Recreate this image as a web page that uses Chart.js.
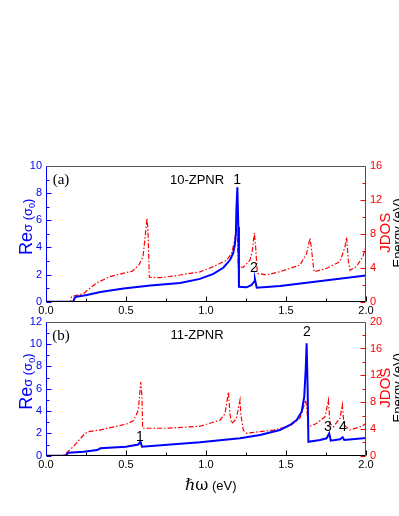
<!DOCTYPE html>
<html>
<head>
<meta charset="utf-8">
<script src="https://cdn.jsdelivr.net/npm/chart.js@4.4.1/dist/chart.umd.min.js"></script>
<style>
  body { margin: 0; background: #fff; width: 399px; height: 516px; overflow: hidden; position: relative; }
  canvas { position: absolute; left: 0; }
</style>
</head>
<body>
<canvas id="chartA" width="399" height="320" style="top:0px"></canvas>
<canvas id="chartB" width="399" height="206" style="top:310px"></canvas>
<script>
// shared x axis
const xTicks = [0, 0.5, 1.0, 1.5, 2.0];

// panel (a) 10-ZPNR
const aLeftTicks = [0, 2, 4, 6, 8, 10];
const aRightTicks = [0, 4, 8, 12, 16];
const aSigmaE = [0, 0.17, 0.18, 0.19, 0.256, 0.34, 0.485, 0.652, 0.8375, 0.9625, 1.046, 1.108, 1.15, 1.17, 1.18, 1.187, 1.19, 1.196, 1.202, 1.206, 1.254, 1.285, 1.30, 1.306, 1.317, 1.4625, 2.0];
const aSigma  = [0, 0, 0.3, 0.37, 0.49, 0.72, 0.98, 1.2, 1.38, 1.68, 2.05, 2.5, 3.07, 3.57, 4.18, 5.04, 6.76, 8.43, 5.5, 1.1, 1.06, 1.23, 1.47, 1.65, 1.03, 1.16, 1.93];
const aJdosE = [0, 0.152, 0.16, 0.235, 0.28, 0.32, 0.40, 0.485, 0.54, 0.58, 0.606, 0.62, 0.631, 0.637, 0.646, 0.715, 0.80, 0.8375, 0.9625, 1.046, 1.13, 1.16, 1.18, 1.19, 1.196, 1.202, 1.233, 1.275, 1.29, 1.302, 1.31, 1.321, 1.379, 1.4625, 1.5875, 1.629, 1.65, 1.66, 1.675, 1.754, 1.8375, 1.869, 1.879, 1.889, 1.9, 1.94, 1.98, 2.0];
const aJdos  = [0, 0, 0.6, 0.96, 1.68, 2.24, 2.96, 3.36, 3.6, 4.32, 5.28, 7.7, 9.84, 8.5, 2.88, 2.83, 3.04, 3.15, 3.52, 4.13, 4.9, 5.7, 7.3, 8.65, 7.7, 4.13, 4.05, 4.9, 6.1, 8.1, 6.5, 3.35, 3.15, 3.54, 4.32, 5.7, 7.5, 6.1, 3.52, 3.94, 4.72, 6.5, 7.6, 4.9, 3.7, 4.13, 5.3, 6.5];
const aPeakLabels = ['1', '2'];
const aPeakX = [1.194, 1.30];
const aPeakY = [8.97, 2.48];

// panel (b) 11-ZPNR
const bLeftTicks = [0, 2, 4, 6, 8, 10, 12];
const bRightTicks = [0, 4, 8, 12, 16, 20];
const bSigmaE = [0, 0.12, 0.14, 0.235, 0.32, 0.34, 0.5, 0.577, 0.59, 0.6, 0.9625, 1.2125, 1.3375, 1.4625, 1.525, 1.567, 1.598, 1.614, 1.623, 1.629, 1.635, 1.64, 1.7125, 1.754, 1.77, 1.78, 1.8375, 1.854, 1.864, 2.0];
const bSigma  = [0, 0, 0.27, 0.36, 0.5, 0.66, 0.8, 1.0, 1.25, 0.8, 1.2, 1.56, 1.85, 2.3, 2.75, 3.2, 3.94, 5.28, 7.67, 10.06, 6.2, 1.25, 1.4, 1.56, 2.0, 1.34, 1.47, 1.65, 1.4, 1.58];
const bJdosE = [0, 0.108, 0.17, 0.244, 0.265, 0.3375, 0.504, 0.546, 0.577, 0.592, 0.6, 0.604, 0.754, 0.9625, 1.0875, 1.119, 1.14, 1.15, 1.16, 1.19, 1.2, 1.2125, 1.217, 1.233, 1.254, 1.42, 1.525, 1.5875, 1.623, 1.629, 1.64, 1.69, 1.744, 1.765, 1.775, 1.796, 1.8375, 1.852, 1.8625, 1.9, 1.9625, 2.0];
const bJdos  = [0, 0, 1.33, 3.33, 3.58, 3.83, 4.73, 5.2, 6.8, 11.0, 8.8, 4.1, 4.1, 4.4, 5.3, 6.3, 9.5, 6.2, 4.8, 5.5, 6.8, 8.3, 6.3, 3.8, 3.35, 3.83, 4.43, 5.6, 8.3, 7.3, 4.3, 4.8, 5.8, 8.3, 4.8, 4.3, 5.6, 7.6, 4.6, 3.83, 4.3, 4.8];
const bPeakLabels = ['1', '2', '3', '4'];
const bPeakX = [0.5875, 1.63, 1.7625, 1.856];
const bPeakY = [1.67, 11.07, 2.57, 2.57];

const BLUE = '#0000ff';
const RED = '#ff0000';
const tickFont = { family: 'Liberation Sans', size: 11 };

function line(ctx, x1, y1, x2, y2) {
    ctx.beginPath();
    ctx.moveTo(x1, y1);
    ctx.lineTo(x2, y2);
    ctx.stroke();
}

// frame, inward ticks and labels
const decor = {
    id: 'decor',
    afterDraw(chart, args, o) {
        const { ctx, chartArea: a, scales } = chart;
        const L = Math.round(a.left) + 0.5, R = Math.round(a.right) - 0.5;
        const T = Math.round(a.top) + 0.5, B = Math.round(a.bottom) - 0.5;
        ctx.save();
        ctx.lineWidth = 1;

        // x ticks
        ctx.strokeStyle = '#000';
        for (let v = 0; v <= 2.0001; v += 0.25) {
            const px = Math.round(scales.x.getPixelForValue(v)) + 0.5;
            const major = Math.abs(v * 2 - Math.round(v * 2)) < 1e-6;
            line(ctx, px, B, px, B - (major ? 5 : 3));
        }
        // left ticks
        ctx.strokeStyle = BLUE;
        for (let v = 0; v <= scales.y.max; v += 1) {
            const py = Math.round(scales.y.getPixelForValue(v)) + 0.5;
            line(ctx, L, py, L + (v % 2 === 0 ? 5 : 3), py);
        }
        // right ticks
        ctx.strokeStyle = RED;
        for (let v = 0; v <= scales.y1.max; v += 2) {
            const py = Math.round(scales.y1.getPixelForValue(v)) + 0.5;
            line(ctx, R, py, R - (v % 4 === 0 ? 5 : 3), py);
        }

        // frame
        ctx.strokeStyle = '#555';
        line(ctx, L, T, R, T);
        ctx.strokeStyle = '#000';
        line(ctx, L, B, R, B);
        ctx.strokeStyle = BLUE;
        line(ctx, L, T, L, B);
        ctx.strokeStyle = RED;
        line(ctx, R, T, R, B);

        // panel tag and name
        ctx.fillStyle = '#000';
        ctx.textBaseline = 'middle';
        ctx.textAlign = 'center';
        ctx.font = '15px "Liberation Serif"';
        ctx.fillText(o.tag, 61, a.top + 14);
        ctx.font = '13px "Liberation Sans"';
        ctx.fillText(o.name, scales.x.getPixelForValue(0.944), a.top + 14);

        // peak numbers
        ctx.font = '14px "Liberation Sans"';
        o.peakLabels.forEach((t, i) => {
            ctx.fillText(t, scales.x.getPixelForValue(o.peakX[i]), scales.y.getPixelForValue(o.peakY[i]));
        });

        // left title Reσ (σ0)
        const cy = (a.top + a.bottom) / 2 - 7;
        ctx.save();
        ctx.translate(32, cy);
        ctx.rotate(-Math.PI / 2);
        ctx.fillStyle = BLUE;
        ctx.textAlign = 'left';
        ctx.textBaseline = 'alphabetic';
        const parts = [
            ['Re', '18px "Liberation Sans"', 0],
            ['σ (σ', '13px "Liberation Sans"', 0],
            ['0', '9px "Liberation Sans"', 3],
            [')', '13px "Liberation Sans"', 0]
        ];
        let w = 0;
        parts.forEach(p => { ctx.font = p[1]; w += ctx.measureText(p[0]).width; });
        let x = -w / 2;
        parts.forEach(p => {
            ctx.font = p[1];
            ctx.fillText(p[0], x, p[2]);
            x += ctx.measureText(p[0]).width;
        });
        ctx.restore();

        // right titles
        ctx.save();
        ctx.translate(390, cy + 6);
        ctx.rotate(-Math.PI / 2);
        ctx.textAlign = 'center';
        ctx.textBaseline = 'alphabetic';
        ctx.fillStyle = RED;
        ctx.font = '15px "Liberation Sans"';
        ctx.fillText('JDOS', 0, 0);
        ctx.fillStyle = '#000';
        ctx.font = '13px "Liberation Sans"';
        ctx.fillText('Energy (eV)', 0, 12);
        ctx.restore();

        // bottom axis title
        if (o.xTitle) {
            ctx.fillStyle = '#000';
            ctx.textAlign = 'left';
            ctx.textBaseline = 'alphabetic';
            ctx.font = '16px "DejaVu Serif"';
            const base = 485 - 310 + 5;
            ctx.fillText('ℏω', 185, base);
            const hw = ctx.measureText('ℏω').width;
            ctx.font = '13px "Liberation Sans"';
            ctx.fillText(' (eV)', 185 + hw, base);
        }
        ctx.restore();
    }
};

function pts(xs, ys) {
    return xs.map((x, i) => ({ x, y: ys[i] }));
}

function makePanel(id, p) {
    return new Chart(document.getElementById(id), {
        type: 'line',
        data: {
            datasets: [
                {
                    data: pts(p.sigmaE, p.sigma),
                    yAxisID: 'y',
                    borderColor: BLUE,
                    borderWidth: 2,
                    pointRadius: 0,
                    tension: 0
                },
                {
                    data: pts(p.jdosE, p.jdos),
                    yAxisID: 'y1',
                    borderColor: RED,
                    borderWidth: 1.2,
                    borderDash: [5, 2, 1.5, 2],
                    pointRadius: 0,
                    tension: 0
                }
            ]
        },
        options: {
            responsive: false,
            animation: false,
            events: [],
            layout: { padding: { top: p.padTop, left: 0, right: 0, bottom: 0 } },
            plugins: {
                legend: { display: false },
                tooltip: { enabled: false },
                decor: p.decor
            },
            scales: {
                x: {
                    type: 'linear', min: 0, max: 2,
                    afterBuildTicks: s => { s.ticks = xTicks.map(v => ({ value: v })); },
                    ticks: { callback: v => v.toFixed(1), color: '#000', font: tickFont, padding: 3, maxRotation: 0, autoSkip: false },
                    grid: { display: false, drawTicks: false },
                    border: { display: false },
                    afterFit: s => { s.height = p.xHeight; }
                },
                y: {
                    position: 'left', min: 0, max: p.leftTicks[p.leftTicks.length - 1],
                    afterBuildTicks: s => { s.ticks = p.leftTicks.map(v => ({ value: v })); },
                    ticks: { color: BLUE, font: tickFont, padding: 4 },
                    grid: { display: false, drawTicks: false },
                    border: { display: false },
                    afterFit: s => { s.width = 46; }
                },
                y1: {
                    position: 'right', min: 0, max: p.rightTicks[p.rightTicks.length - 1],
                    afterBuildTicks: s => { s.ticks = p.rightTicks.map(v => ({ value: v })); },
                    ticks: { color: RED, font: tickFont, padding: 4 },
                    grid: { display: false, drawTicks: false },
                    border: { display: false },
                    afterFit: s => { s.width = 33; }
                }
            }
        },
        plugins: [decor]
    });
}

makePanel('chartA', {
    sigmaE: aSigmaE, sigma: aSigma, jdosE: aJdosE, jdos: aJdos,
    leftTicks: aLeftTicks, rightTicks: aRightTicks,
    padTop: 166, xHeight: 18.3,
    decor: { tag: '(a)', name: '10-ZPNR', peakLabels: aPeakLabels, peakX: aPeakX, peakY: aPeakY, xTitle: false }
});

makePanel('chartB', {
    sigmaE: bSigmaE, sigma: bSigma, jdosE: bJdosE, jdos: bJdos,
    leftTicks: bLeftTicks, rightTicks: bRightTicks,
    padTop: 11.7, xHeight: 60.3,
    decor: { tag: '(b)', name: '11-ZPNR', peakLabels: bPeakLabels, peakX: bPeakX, peakY: bPeakY, xTitle: true }
});
</script>
</body>
</html>
